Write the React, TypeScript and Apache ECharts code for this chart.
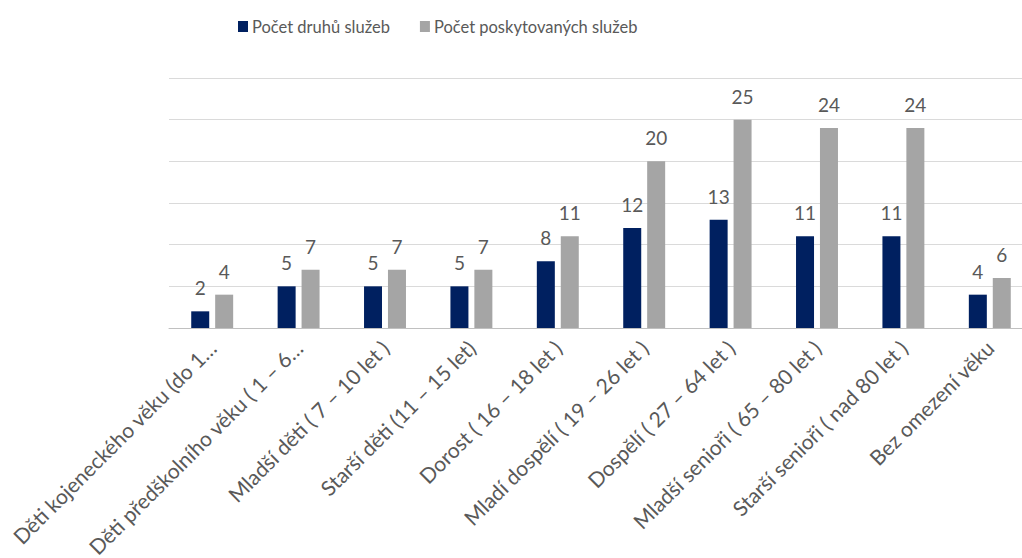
import React, { useEffect, useRef } from "react";
import * as echarts from "echarts";

const categories = [
  "Děti kojeneckého věku (do 1…",
  "Děti předškolního věku ( 1 – 6…",
  "Mladší děti ( 7 – 10 let )",
  "Starší děti (11 – 15 let)",
  "Dorost ( 16 – 18 let )",
  "Mladí dospělí ( 19 – 26 let )",
  "Dospělí ( 27 – 64 let )",
  "Mladší senioři ( 65 – 80 let )",
  "Starší senioři ( nad 80 let )",
  "Bez omezení věku",
];
const druhy = [2, 5, 5, 5, 8, 12, 13, 11, 11, 4];
const poskytovane = [4, 7, 7, 7, 11, 20, 25, 24, 24, 6];
const seriesNames = ["Počet druhů služeb", "Počet poskytovaných služeb"];

const FONT = "Lato, 'Open Sans', sans-serif";
const TEXT = "#595959";

export default function App() {
  const ref = useRef<HTMLDivElement>(null);
  useEffect(() => {
    document.body.style.margin = "0";
    const chart = echarts.init(ref.current!, null, { renderer: "svg" });
    const label = {
      show: true,
      position: "top" as const,
      distance: 14,
      color: TEXT,
      fontSize: 19,
      fontFamily: FONT,
    };
    chart.setOption({
      animation: false,
      backgroundColor: "#ffffff",
      legend: {
        left: 233,
        top: 13,
        itemWidth: 10,
        itemHeight: 11,
        itemGap: 30,
        icon: "rect",
        textStyle: { color: TEXT, fontSize: 16.5, fontFamily: FONT, padding: [0, 0, 0, -1] },
        data: seriesNames,
      },
      grid: {
        left: 169,
        width: 864,
        top: 78,
        bottom: 230,
        containLabel: false,
        outerBoundsMode: "none",
      },
      xAxis: {
        type: "category",
        data: categories,
        axisLine: { lineStyle: { color: "#c0c0c0", width: 1 } },
        axisTick: { show: false },
        axisLabel: {
          rotate: 45,
          interval: 0,
          margin: 16,
          color: TEXT,
          fontSize: 21,
          fontFamily: FONT,
        },
      },
      yAxis: {
        type: "value",
        min: 0,
        max: 30,
        interval: 5,
        axisLabel: { show: false },
        axisLine: { show: false },
        axisTick: { show: false },
        splitLine: { lineStyle: { color: "#dadada", width: 1 } },
      },
      series: [
        {
          name: seriesNames[0],
          type: "bar",
          data: druhy,
          barWidth: 18,
          barGap: "33%",
          itemStyle: { color: "#002060" },
          label,
        },
        {
          name: seriesNames[1],
          type: "bar",
          data: poskytovane,
          barWidth: 18,
          itemStyle: { color: "#a5a5a5" },
          label,
        },
      ],
    });
    return () => chart.dispose();
  }, []);
  return (
    <div
      ref={ref}
      style={{ position: "fixed", left: 0, top: 0, width: 1022, height: 558 }}
    />
  );
}
